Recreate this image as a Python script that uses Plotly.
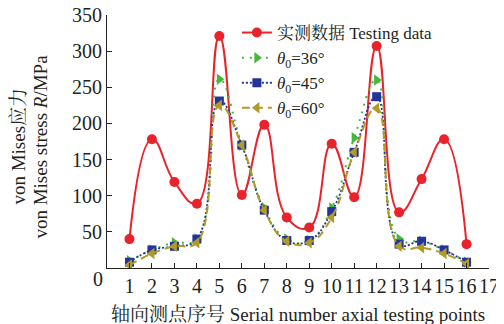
import plotly.graph_objects as go

points = list(range(1, 17))
testing = [40, 178, 119, 89, 321, 101, 198, 70, 56, 172, 98, 307, 77, 123, 178, 33]
theta36 = [10, 25, 35, 40, 261, 170, 83, 40, 38, 83, 180, 260, 40, 37, 25, 8]
theta45 = [8, 25, 30, 40, 231, 170, 80, 38, 38, 78, 160, 237, 33, 37, 25, 8]
theta60 = [4, 20, 30, 35, 225, 170, 80, 37, 35, 70, 160, 221, 30, 28, 20, 6]

x_ticks = list(range(1, 18))
y_ticks = [0, 50, 100, 150, 200, 250, 300, 350]
y_ticktext = ["", "50", "100", "150", "200", "250", "300", "350"]

FONT = "Liberation Serif, Times New Roman, Noto Serif CJK SC, Noto Sans CJK SC, serif"

fig = go.Figure()
fig.add_trace(go.Scatter(
    x=points, y=testing, name="实测数据 Testing data",
    mode="lines+markers", line=dict(color="#e8232b", width=2, shape="spline", smoothing=1.3),
    marker=dict(symbol="circle", size=10, color="#e8232b")))
fig.add_trace(go.Scatter(
    x=points, y=theta36, name="<i>θ</i><sub>0</sub>=36°",
    mode="lines+markers", line=dict(color="#44b83a", width=2, dash="2px,6px", shape="spline", smoothing=1.3),
    marker=dict(symbol="triangle-right", size=10, color="#44b83a")))
fig.add_trace(go.Scatter(
    x=points, y=theta45, name="<i>θ</i><sub>0</sub>=45°",
    mode="lines+markers", line=dict(color="#23359a", width=1.8, dash="2px,2px", shape="spline", smoothing=1.3),
    marker=dict(symbol="square", size=9, color="#23359a")))
fig.add_trace(go.Scatter(
    x=points, y=theta60, name="<i>θ</i><sub>0</sub>=60°",
    mode="lines+markers", line=dict(color="#b09a28", width=2, dash="8px,5px", shape="spline", smoothing=1.3),
    marker=dict(symbol="triangle-left", size=10, color="#b09a28")))

fig.update_layout(
    width=496, height=316,
    margin=dict(l=99, r=15, t=7, b=56, autoexpand=False),
    paper_bgcolor="white", plot_bgcolor="white",
    font=dict(family=FONT, size=19, color="#231f20"),
    showlegend=True,
    legend=dict(x=0.34, y=1.0, xanchor="left", yanchor="top",
                bgcolor="rgba(0,0,0,0)", borderwidth=0,
                font=dict(size=17), tracegroupgap=0, itemwidth=30),
    xaxis=dict(range=[0, 17], tickvals=x_ticks, ticks="inside", ticklen=5, automargin=False,
               ticklabeloverflow="allow",
               showline=True, linecolor="#231f20", linewidth=1.2, tickcolor="#231f20",
               showgrid=False, zeroline=False, tickfont=dict(size=20)),
    yaxis=dict(range=[0, 350], tickvals=y_ticks, ticktext=y_ticktext, ticks="inside", ticklen=5, automargin=False,
               ticklabeloverflow="allow",
               showline=True, linecolor="#231f20", linewidth=1.2, tickcolor="#231f20",
               showgrid=False, zeroline=False, tickfont=dict(size=20)),
    annotations=[
        dict(text="0", x=0, y=0, xref="paper", yref="paper", xanchor="right", yanchor="top",
             xshift=-2, yshift=2, showarrow=False, font=dict(size=20)),
        dict(text="von Mises应力", x=0, y=0.48, xref="paper", yref="paper", xanchor="center", yanchor="middle",
             xshift=-88, textangle=-90, showarrow=False, font=dict(size=19)),
        dict(text="von Mises stress <i>R</i>/MPa", x=0, y=0.48, xref="paper", yref="paper",
             xanchor="center", yanchor="middle", xshift=-66, textangle=-90, showarrow=False, font=dict(size=19)),
        dict(text="轴向测点序号 Serial number axial testing points", x=0.5, y=0, xref="paper", yref="paper",
             xanchor="center", yanchor="middle", yshift=-46, showarrow=False, font=dict(size=19)),
    ],
)

fig.write_html("out.html")
